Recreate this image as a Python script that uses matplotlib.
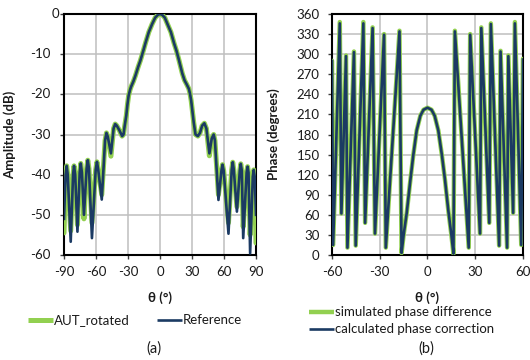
import matplotlib
matplotlib.use("Agg")
import matplotlib.pyplot as plt
from matplotlib.lines import Line2D

# ---------------- data ----------------
theta_amp = [-90, -88.5, -87.5, -86.5, -83.7, -81.5, -80.6, -79.5, -77.4, -75.3, -74.3, -73.2,
             -71.3, -68.8, -67.7, -66.6, -63.8, -60.3, -59.1, -57.9, -54.6, -51.5, -50.2, -49.0,
             -46.0, -43.5, -42.0, -40.5, -38.0, -35.5, -34.2, -33.2, -31.6, -30.5, -29.4, -28.0,
             -27.1, -25.0, -23.1, -20.5, -18.4, -15.5, -13.7, -10.5, -7.4, -4.5, -2.0, 0,
             2.0, 4.5, 7.0, 10.2, 13.2, 15.5, 17.7, 20.9, 23.0, 25.0, 27.0, 28.1,
             29.2, 30.3, 31.6, 33.3, 35.5, 37.5, 39.5, 41.6, 43.5, 46.3, 48.5, 50.3,
             51.5, 54.8, 57.6, 58.6, 59.7, 64.2, 67.2, 68.2, 69.2, 72.1, 74.8, 75.7,
             76.7, 78.0, 81.2, 82.1, 83.0, 84.5, 87.0, 87.9, 88.8, 90]
reference_db = [-51, -40, -37.8, -40, -56.7, -40, -37.8, -40, -54.2, -39.5, -37.2, -39.5,
                -50.0, -38.5, -36.4, -38.5, -55.8, -38.8, -36.8, -38.8, -46.2, -31.5, -29.6, -30.5,
                -34.7, -28.5, -27.4, -27.8, -29.0, -30.4, -30.0, -28.0, -25.3, -22.5, -20.3, -18.8,
                -18.1, -16.8, -15.4, -13.2, -11.6, -9.0, -7.3, -4.5, -2.5, -0.9, -0.2, 0,
                -0.2, -0.9, -2.5, -4.5, -7.3, -9.2, -11.4, -14.8, -16.5, -17.5, -18.6, -19.8,
                -21.5, -24.0, -27.0, -30.0, -30.4, -29.6, -27.8, -27.2, -28.5, -34.7, -31.0, -30.0,
                -31.5, -46.3, -39.0, -37.5, -39.0, -54.7, -38.8, -36.9, -38.8, -49.2, -39.0, -37.3,
                -39.0, -55.8, -39.5, -38.0, -39.5, -59.6, -40.5, -38.8, -40.5, -50]
aut_rotated_db = [-54.5, -40, -37.8, -40, -54.0, -40, -37.8, -40, -52.5, -39.5, -37.2, -39.5,
                  -51.0, -38.5, -36.4, -38.5, -52.0, -38.8, -36.8, -38.8, -45.0, -31.5, -29.6, -30.5,
                  -35.4, -28.5, -27.4, -27.8, -29.0, -30.4, -30.0, -28.0, -25.3, -22.5, -20.3, -18.8,
                  -18.1, -16.8, -15.4, -13.2, -11.6, -9.0, -7.3, -4.5, -2.5, -0.9, -0.2, 0,
                  -0.2, -0.9, -2.5, -4.5, -7.3, -9.2, -11.4, -14.8, -16.5, -17.5, -18.6, -19.8,
                  -21.5, -24.0, -27.0, -30.0, -30.4, -29.6, -27.8, -27.2, -28.5, -35.3, -31.0, -30.0,
                  -31.5, -45.0, -39.0, -37.5, -39.0, -52.0, -38.8, -36.9, -38.8, -48.0, -39.0, -37.3,
                  -39.0, -53.0, -39.5, -38.0, -39.5, -55.0, -40.5, -38.8, -40.5, -57]

theta_phase = [-60, -59.3, -55.1, -54.1, -51.2, -50.3, -46.2, -45.1, -40.3, -39.2, -34.5, -33.0,
               -27.3, -26.2, -17.6, -16.3, -15.0, -13.1, -11.0, -9.0, -6.8, -4.5, -2.5, 0,
               2.5, 4.5, 6.8, 9.0, 11.0, 13.1, 15.0, 16.3, 17.2, 25.9, 26.8, 33.0,
               33.8, 38.8, 39.8, 45.0, 45.9, 50.0, 50.8, 53.8, 54.9, 58.9, 60]
simulated_phase = [290, 15, 348, 62, 298, 11, 304, 14, 348, 48, 340, 32,
                   330, 11, 335, 3, 30, 62, 107, 148, 186, 208, 217, 220,
                   217, 208, 186, 150, 112, 66, 30, 2, 335, 11, 330, 32,
                   340, 48, 346, 14, 305, 11, 298, 63, 348, 15, 293]
calculated_phase = [290, 15, 346, 62, 297, 11, 303, 14, 346, 48, 339, 32,
                    329, 11, 334, 3, 30, 62, 107, 148, 186, 208, 217, 220,
                    217, 208, 186, 150, 112, 66, 30, 2, 334, 11, 329, 32,
                    339, 48, 345, 14, 304, 11, 297, 63, 346, 15, 292]

amp_xticks = [-90, -60, -30, 0, 30, 60, 90]
amp_yticks = [0, -10, -20, -30, -40, -50, -60]
ph_xticks = [-60, -30, 0, 30, 60]
ph_yticks = [0, 30, 60, 90, 120, 150, 180, 210, 240, 270, 300, 330, 360]

labels_a = ["AUT_rotated", "Reference"]
labels_b = ["simulated phase difference", "calculated phase correction"]

# ---------------- style ----------------
plt.rcParams['font.family'] = ['Lato', 'DejaVu Sans']
plt.rcParams['font.size'] = 9.5
plt.rcParams['axes.unicode_minus'] = False
FS = 9.5
GREEN = '#92D050'
BLUE = '#1B3A63'
GRID = '#BFBFBF'
TXT = '#1a1a1a'

W, H = 530, 360
fig = plt.figure(figsize=(W / 100, H / 100), dpi=100)
ax1 = fig.add_axes([64 / W, 1 - 255 / H, 192 / W, 241 / H])
ax2 = fig.add_axes([332 / W, 1 - 255 / H, 191 / W, 241 / H])

for ax in (ax1, ax2):
    ax.grid(True, color=GRID, lw=1.1)
    ax.set_axisbelow(True)
    for s in ax.spines.values():
        s.set_color('black')
        s.set_linewidth(1.5)
    ax.tick_params(direction='out', length=3, width=1, color='#404040', labelcolor=TXT,
                   labelsize=FS)
    ax.tick_params(axis='x', pad=5)

# (a) amplitude
ax1.plot(theta_amp, aut_rotated_db, color=GREEN, lw=3.6, solid_joinstyle='round',
         solid_capstyle='round', zorder=3)
ax1.plot(theta_amp, reference_db, color=BLUE, lw=1.9, solid_joinstyle='round', zorder=4)
ax1.set_xlim(-90, 90)
ax1.set_ylim(-60, 0)
ax1.set_xticks(amp_xticks)
ax1.set_xticklabels([str(v) for v in amp_xticks])
ax1.set_yticks(amp_yticks)
ax1.tick_params(axis='y', labelleft=False)
ytr = ax1.get_yaxis_transform()
for v in amp_yticks:
    xpos = -0.026 if v == 0 else -0.072
    ax1.text(xpos, v, str(v), transform=ytr, ha='right', va='center', color=TXT, fontsize=FS)
ax1.set_ylabel('Amplitude (dB)', fontweight='bold', fontsize=FS, color=TXT)
ax1.yaxis.set_label_coords(-0.25, 0.5)
ax1.set_xlabel('θ (°)', fontweight='bold', fontsize=FS, color=TXT)
ax1.xaxis.set_label_coords(0.5, -0.15)

# (b) phase
ax2.plot(theta_phase, simulated_phase, color=GREEN, lw=3.2, solid_joinstyle='round',
         solid_capstyle='round', zorder=3)
ax2.plot(theta_phase, calculated_phase, color=BLUE, lw=1.9, solid_joinstyle='round', zorder=4)
ax2.set_xlim(-60, 60)
ax2.set_ylim(0, 360)
ax2.set_xticks(ph_xticks)
ax2.set_xticklabels([str(v) for v in ph_xticks])
ax2.set_yticks(ph_yticks)
ax2.tick_params(axis='y', pad=6)
ax2.set_ylabel('Phase (degrees)', fontweight='bold', fontsize=FS, color=TXT)
ax2.yaxis.set_label_coords(-0.27, 0.5)
ax2.set_xlabel('θ (°)', fontweight='bold', fontsize=FS, color=TXT)
ax2.xaxis.set_label_coords(0.5, -0.15)

# legends (manual, figure coordinates)
def legend_entry(x0, x1, y, color, lw, label):
    yf = 1 - y / H
    fig.add_artist(Line2D([x0 / W, x1 / W], [yf, yf], color=color, lw=lw,
                          transform=fig.transFigure, solid_capstyle='butt'))
    fig.text(x1 / W + 1 / W, yf, label, ha='left', va='center', color=TXT, fontsize=FS)

legend_entry(28, 53, 320, GREEN, 3.6, labels_a[0])
legend_entry(157, 182, 320, BLUE, 1.9, labels_a[1])
legend_entry(309, 334, 312, GREEN, 3.2, labels_b[0])
legend_entry(309, 334, 329, BLUE, 1.9, labels_b[1])

fig.text(154 / W, 1 - 349 / H, '(a)', ha='center', va='center', color=TXT, fontsize=10.5)
fig.text(426 / W, 1 - 349 / H, '(b)', ha='center', va='center', color=TXT, fontsize=10.5)

fig.savefig('out.png', dpi=100)
